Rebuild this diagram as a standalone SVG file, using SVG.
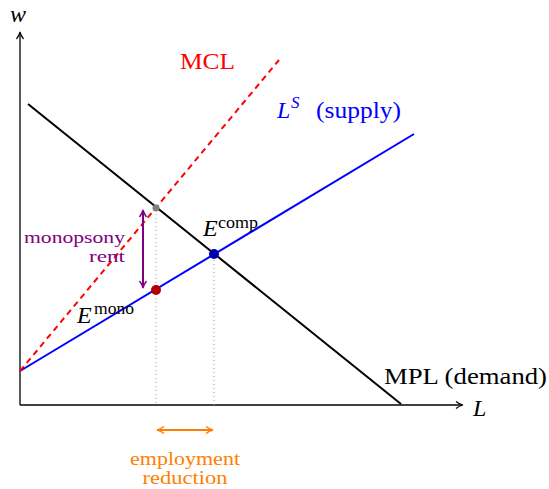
<svg xmlns="http://www.w3.org/2000/svg" width="549" height="489" viewBox="0 0 549 489">
<style>
text{font-family:"Liberation Serif","Times New Roman",serif;}
.it{font-style:italic;}
.ax{stroke:#000;stroke-width:1.3;fill:none;}
.curve{stroke-width:2;fill:none;}
.guide{stroke:#999;stroke-width:1;stroke-dasharray:1 3;fill:none;}
</style>
<defs>
<marker id="axarrow" markerWidth="10" markerHeight="10" refX="7" refY="5" orient="auto" markerUnits="userSpaceOnUse">
<path d="M1,1.5 Q4,4 8,5 Q4,6 1,8.5" fill="none" stroke="#000" stroke-width="1.2"/>
</marker>
<marker id="parr" markerWidth="10" markerHeight="10" refX="7" refY="5" orient="auto-start-reverse" markerUnits="userSpaceOnUse">
<path d="M1,1.5 Q4,4 8,5 Q4,6 1,8.5" fill="none" stroke="#800080" stroke-width="1.5"/>
</marker>
<marker id="oarr" markerWidth="10" markerHeight="10" refX="7" refY="5" orient="auto-start-reverse" markerUnits="userSpaceOnUse">
<path d="M1,1.5 Q4,4 8,5 Q4,6 1,8.5" fill="none" stroke="#ff8000" stroke-width="1.5"/>
</marker>
</defs>
<g id="axes">
<line class="ax" x1="20" y1="405" x2="20" y2="33" marker-end="url(#axarrow)"/>
<line class="ax" x1="20" y1="405" x2="462" y2="405" marker-end="url(#axarrow)"/>
<text x="10" y="22" font-size="24" class="it">w</text>
<text x="473" y="416" font-size="24" class="it">L</text>
</g>
<g id="connectors">
<line class="guide" x1="156" y1="210" x2="156" y2="405"/>
<line class="guide" x1="214" y1="256" x2="214" y2="405"/>
<line class="curve" stroke="#000" x1="28" y1="104" x2="401" y2="404"/>
<line class="curve" stroke="#0000ff" x1="20" y1="371" x2="414" y2="134"/>
<line class="curve" stroke="#ff0000" stroke-dasharray="6 4.5" x1="20" y1="371" x2="279" y2="60"/>
<line stroke="#800080" stroke-width="2" x1="143" y1="211" x2="143" y2="287" marker-start="url(#parr)" marker-end="url(#parr)"/>
<line stroke="#ff8000" stroke-width="2" x1="158" y1="430" x2="212" y2="430" marker-start="url(#oarr)" marker-end="url(#oarr)"/>
</g>
<g id="mcl-label"><text x="180" y="69" font-size="24" fill="#ff0000" textLength="55" lengthAdjust="spacingAndGlyphs">MCL</text></g>
<g id="supply-label"><text y="118" font-size="24" fill="#0000ff"><tspan x="277" class="it">L</tspan><tspan x="291" y="108" font-size="17" class="it">S</tspan><tspan x="316" y="118" textLength="85" lengthAdjust="spacingAndGlyphs">(supply)</tspan></text></g>
<g id="demand-label"><text x="384" y="384" font-size="24" fill="#000" textLength="163" lengthAdjust="spacingAndGlyphs">MPL (demand)</text></g>
<g id="e-comp">
<circle cx="214" cy="254" r="5" fill="#0000b3"/>
<text y="236" font-size="24"><tspan x="203" class="it">E</tspan><tspan x="218" y="228" font-size="17" textLength="40" lengthAdjust="spacingAndGlyphs">comp</tspan></text>
</g>
<g id="e-mono">
<circle cx="156" cy="290" r="5" fill="#b30000"/>
<text y="323" font-size="24"><tspan x="77" class="it">E</tspan><tspan x="94" y="314" font-size="17" textLength="40" lengthAdjust="spacingAndGlyphs">mono</tspan></text>
</g>
<g id="e-mcl"><circle cx="156" cy="208" r="3.5" fill="#808080"/></g>
<g id="rent-label">
<text font-size="17" fill="#800080" text-anchor="end"><tspan x="125" y="243" textLength="101" lengthAdjust="spacingAndGlyphs">monopsony</tspan><tspan x="125" y="262" textLength="36" lengthAdjust="spacingAndGlyphs">rent</tspan></text>
</g>
<g id="reduction-label">
<text font-size="18" fill="#ff8000" text-anchor="middle"><tspan x="185" y="465" textLength="110" lengthAdjust="spacingAndGlyphs">employment</tspan><tspan x="185" y="484" textLength="85" lengthAdjust="spacingAndGlyphs">reduction</tspan></text>
</g>
</svg>
